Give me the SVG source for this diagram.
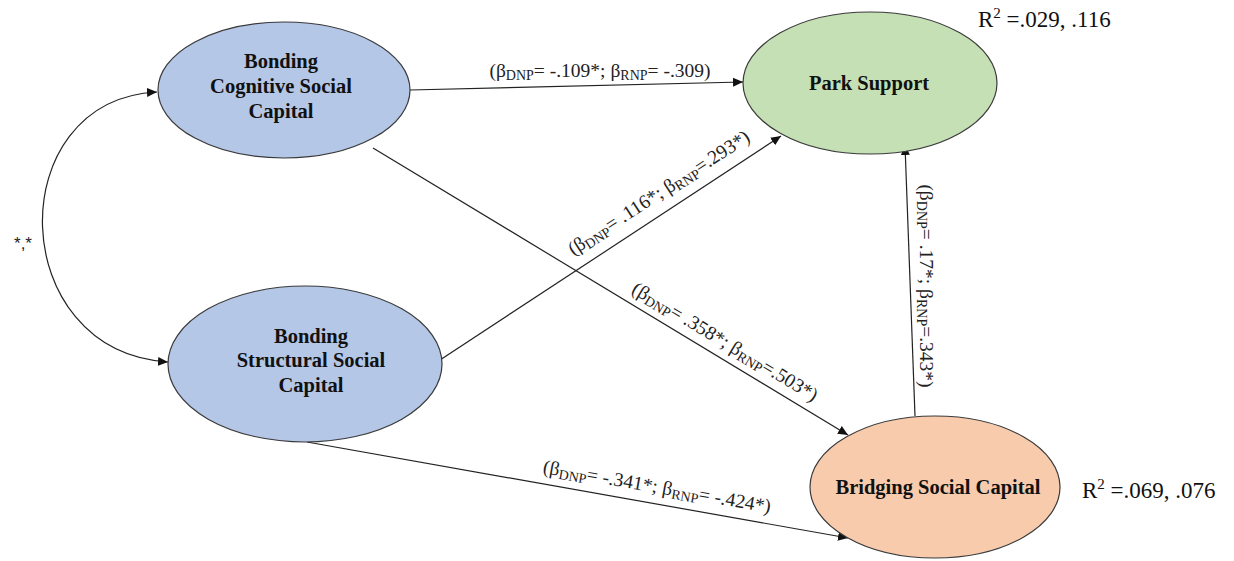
<svg xmlns="http://www.w3.org/2000/svg" width="1234" height="561" viewBox="0 0 1234 561">
<style>
.node{stroke:#3a3a3a;stroke-width:1.2}
.nt{font-family:"Liberation Serif",serif;font-weight:bold;font-size:20.5px;fill:#111;text-anchor:middle}
.lbl{font-family:"Liberation Serif",serif;font-size:19.5px;fill:#222;text-anchor:middle}
.sub{font-size:14px}
.r2{font-family:"Liberation Serif",serif;font-size:23px;fill:#111}
.edge{fill:none;stroke:#222;stroke-width:1.2}
</style>
<defs>
<marker id="ah" viewBox="0 0 10 10" refX="10" refY="5" markerWidth="10" markerHeight="10" markerUnits="userSpaceOnUse" orient="auto-start-reverse">
<path d="M0,0.5 L10,5 L0,9.5 Z" fill="#111"/>
</marker>
</defs>
<rect width="1234" height="561" fill="#fff"/>
<g id="connectors">
<path class="edge" d="M157,92 C0,100 5,352 168,362" marker-start="url(#ah)" marker-end="url(#ah)"/>
<line class="edge" x1="410" y1="90" x2="743" y2="82" marker-end="url(#ah)"/>
<line class="edge" x1="440" y1="360" x2="781" y2="136" marker-end="url(#ah)"/>
<line class="edge" x1="373" y1="148" x2="848" y2="435" marker-end="url(#ah)"/>
<line class="edge" x1="307" y1="442" x2="848" y2="538" marker-end="url(#ah)"/>
<line class="edge" x1="915" y1="416" x2="905" y2="145" marker-end="url(#ah)"/>
<text class="lbl" x="23" y="249" style="font-family:'Liberation Sans',sans-serif;font-size:17px">*,*</text>
<text class="lbl" x="600" y="77">(β<tspan dy="3" class="sub">DNP</tspan><tspan dy="-3">= -.109*; β</tspan><tspan dy="3" class="sub">RNP</tspan><tspan dy="-3">= -.309)</tspan></text>
<text class="lbl" transform="translate(659,193) rotate(-33)" y="6">(β<tspan dy="3" class="sub">DNP</tspan><tspan dy="-3">= .116*; β</tspan><tspan dy="3" class="sub">RNP</tspan><tspan dy="-3">=.293*)</tspan></text>
<text class="lbl" transform="translate(725,342) rotate(31)" y="6">(β<tspan dy="3" class="sub">DNP</tspan><tspan dy="-3">= .358*; β</tspan><tspan dy="3" class="sub">RNP</tspan><tspan dy="-3">=.503*)</tspan></text>
<text class="lbl" transform="translate(657,487) rotate(10)" y="6">(β<tspan dy="3" class="sub">DNP</tspan><tspan dy="-3">= -.341*; β</tspan><tspan dy="3" class="sub">RNP</tspan><tspan dy="-3">= -.424*)</tspan></text>
<text class="lbl" transform="translate(920,286) rotate(90)" y="0">(β<tspan dy="3" class="sub">DNP</tspan><tspan dy="-3">= .17*; β</tspan><tspan dy="3" class="sub">RNP</tspan><tspan dy="-3">=.343*)</tspan></text>
</g>
<g id="cognitive">
<ellipse class="node" cx="284" cy="90" rx="126" ry="68" fill="#b4c7e7"/>
<text class="nt" x="281" y="68">Bonding</text>
<text class="nt" x="281" y="93">Cognitive Social</text>
<text class="nt" x="281" y="118">Capital</text>
</g>
<g id="structural">
<ellipse class="node" cx="305" cy="364" rx="137" ry="78" fill="#b4c7e7"/>
<text class="nt" x="311" y="343">Bonding</text>
<text class="nt" x="311" y="367">Structural Social</text>
<text class="nt" x="311" y="392">Capital</text>
</g>
<g id="park">
<ellipse class="node" cx="870" cy="83" rx="127" ry="71" fill="#c5e0b4"/>
<text class="nt" x="869" y="90">Park Support</text>
</g>
<g id="bridging">
<ellipse class="node" cx="935" cy="487" rx="125" ry="71" fill="#f8cbad"/>
<text class="nt" x="938" y="494">Bridging Social Capital</text>
</g>
<g id="r2">
<text class="r2" x="978" y="27">R<tspan dy="-9" font-size="15">2</tspan><tspan dy="9"> =.029, .116</tspan></text>
<text class="r2" x="1082" y="498">R<tspan dy="-9" font-size="15">2</tspan><tspan dy="9"> =.069, .076</tspan></text>
</g>
</svg>
